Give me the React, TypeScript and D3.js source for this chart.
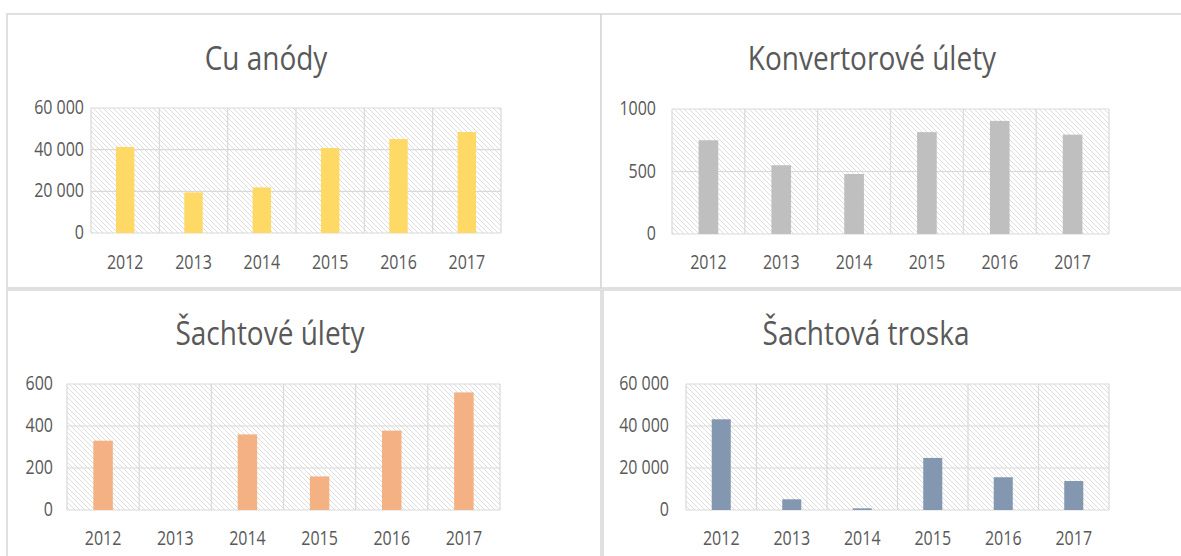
import * as d3 from "d3";
import { useEffect, useRef } from "react";

// data
const years = ["2012", "2013", "2014", "2015", "2016", "2017"];
const cuAnody = [41300, 19500, 21900, 40800, 45100, 48500];
const konvertoroveUlety = [750, 550, 480, 815, 905, 795];
const sachtoveUlety = [330, 0, 360, 160, 378, 560];
const sachtovaTroska = [43200, 5100, 800, 24800, 15600, 13800];
const ticksBig = [0, 20000, 40000, 60000];
const ticksKonv = [0, 500, 1000];
const ticksSacht = [0, 200, 400, 600];

const FONT = "'Open Sans', 'Noto Sans', sans-serif";
const TEXT = "#595959";
const GRID = "#d9d9d9";

// excel-like: thousands separator only from 10 000 up
function fmt(v: number) {
  if (v < 10000) return String(v);
  return d3.format(",")(v).replace(/,/g, " ");
}

function App() {
  const ref = useRef<SVGSVGElement | null>(null);

  useEffect(() => {
    var svg = d3.select(ref.current);
    svg.selectAll("*").remove();

    var defs = svg.append("defs");
    var pat = defs
      .append("pattern")
      .attr("id", "hatch")
      .attr("patternUnits", "userSpaceOnUse")
      .attr("width", 5)
      .attr("height", 5);
    pat.append("rect").attr("width", 5).attr("height", 5).attr("fill", "#fff");
    pat
      .append("path")
      .attr("d", "M-1,-1 L6,6 M-1,4 L1,6 M4,-1 L6,1")
      .attr("stroke", "#dedede")
      .attr("stroke-width", 1);

    // outer chart frames
    var frames = [
      [7, 14, 601, 288],
      [601, 14, 1195, 288],
      [7, 290, 601, 575],
      [603, 290, 1195, 575],
    ];
    frames.forEach(function (f) {
      svg
        .append("rect")
        .attr("x", f[0])
        .attr("y", f[1])
        .attr("width", f[2] - f[0])
        .attr("height", f[3] - f[1])
        .attr("fill", "#fff")
        .attr("stroke", GRID)
        .attr("stroke-width", 1.6);
    });

    var panels = [
      { title: "Cu anódy", values: cuAnody, ticks: ticksBig, color: "#FFD966",
        x0: 91, x1: 501, y0: 108, y1: 233, labelX: 84, titleX: 266, titleY: 70, yearY: 262 },
      { title: "Konvertorové úlety", values: konvertoroveUlety, ticks: ticksKonv, color: "#BFBFBF",
        x0: 672, x1: 1109, y0: 109, y1: 234, labelX: 656, titleX: 872, titleY: 70, yearY: 262 },
      { title: "Šachtové úlety", values: sachtoveUlety, ticks: ticksSacht, color: "#F4B183",
        x0: 67, x1: 500, y0: 384, y1: 510, labelX: 53, titleX: 270, titleY: 345, yearY: 538 },
      { title: "Šachtová troska", values: sachtovaTroska, ticks: ticksBig, color: "#8497B0",
        x0: 686, x1: 1109, y0: 384, y1: 510, labelX: 669, titleX: 866, titleY: 345, yearY: 538 },
    ];

    panels.forEach(function (p) {
      var g = svg.append("g");
      var x = d3.scaleBand().domain(years).range([p.x0, p.x1]).padding(0);
      var y = d3
        .scaleLinear()
        .domain([0, d3.max(p.ticks) as number])
        .range([p.y1, p.y0]);

      // plot area with hatch
      g.append("rect")
        .attr("x", p.x0)
        .attr("y", p.y0)
        .attr("width", p.x1 - p.x0)
        .attr("height", p.y1 - p.y0)
        .attr("fill", "url(#hatch)");

      // horizontal gridlines
      g.selectAll(".hgrid")
        .data(p.ticks)
        .enter()
        .append("line")
        .attr("x1", p.x0)
        .attr("x2", p.x1)
        .attr("y1", (d) => y(d))
        .attr("y2", (d) => y(d))
        .attr("stroke", GRID)
        .attr("stroke-width", 1.2);

      // vertical gridlines at category boundaries
      var bounds = years.map((yr) => x(yr) as number).concat([p.x1]);
      g.selectAll(".vgrid")
        .data(bounds)
        .enter()
        .append("line")
        .attr("x1", (d) => d)
        .attr("x2", (d) => d)
        .attr("y1", p.y0)
        .attr("y2", p.y1)
        .attr("stroke", GRID)
        .attr("stroke-width", 1.2);

      // bars
      var bw = x.bandwidth() * 0.27;
      g.selectAll(".bar")
        .data(p.values)
        .enter()
        .append("rect")
        .attr("x", (_, i) => (x(years[i]) as number) + x.bandwidth() / 2 - bw / 2)
        .attr("y", (d) => y(d))
        .attr("width", bw)
        .attr("height", (d) => p.y1 - y(d))
        .attr("fill", p.color);

      // y tick labels
      g.selectAll(".ylab")
        .data(p.ticks)
        .enter()
        .append("text")
        .attr("transform", (d) => "translate(" + p.labelX + "," + (y(d) + 6) + ") scale(1,1.2)")
        .attr("text-anchor", "end")
        .attr("font-family", FONT)
        .attr("font-size", "16px")
        .attr("fill", TEXT)
        .text((d) => fmt(d));

      // x labels
      g.selectAll(".xlab")
        .data(years)
        .enter()
        .append("text")
        .attr("transform", (d) => "translate(" + ((x(d) as number) + x.bandwidth() / 2) + "," + (p.yearY + 7) + ") scale(1,1.2)")
        .attr("text-anchor", "middle")
        .attr("font-family", FONT)
        .attr("font-size", "16px")
        .attr("fill", TEXT)
        .text((d) => d);

      // title
      g.append("text")
        .attr("transform", "translate(" + p.titleX + "," + p.titleY + ") scale(1,1.18)")
        .attr("text-anchor", "middle")
        .attr("font-family", FONT)
        .attr("font-size", "28px")
        .attr("fill", TEXT)
        .text(p.title);
    });
  }, []);

  return (
    <svg
      ref={ref}
      width={1181}
      height={556}
      style={{ position: "absolute", left: 0, top: 0, background: "#fff" }}
    ></svg>
  );
}

export default App;
